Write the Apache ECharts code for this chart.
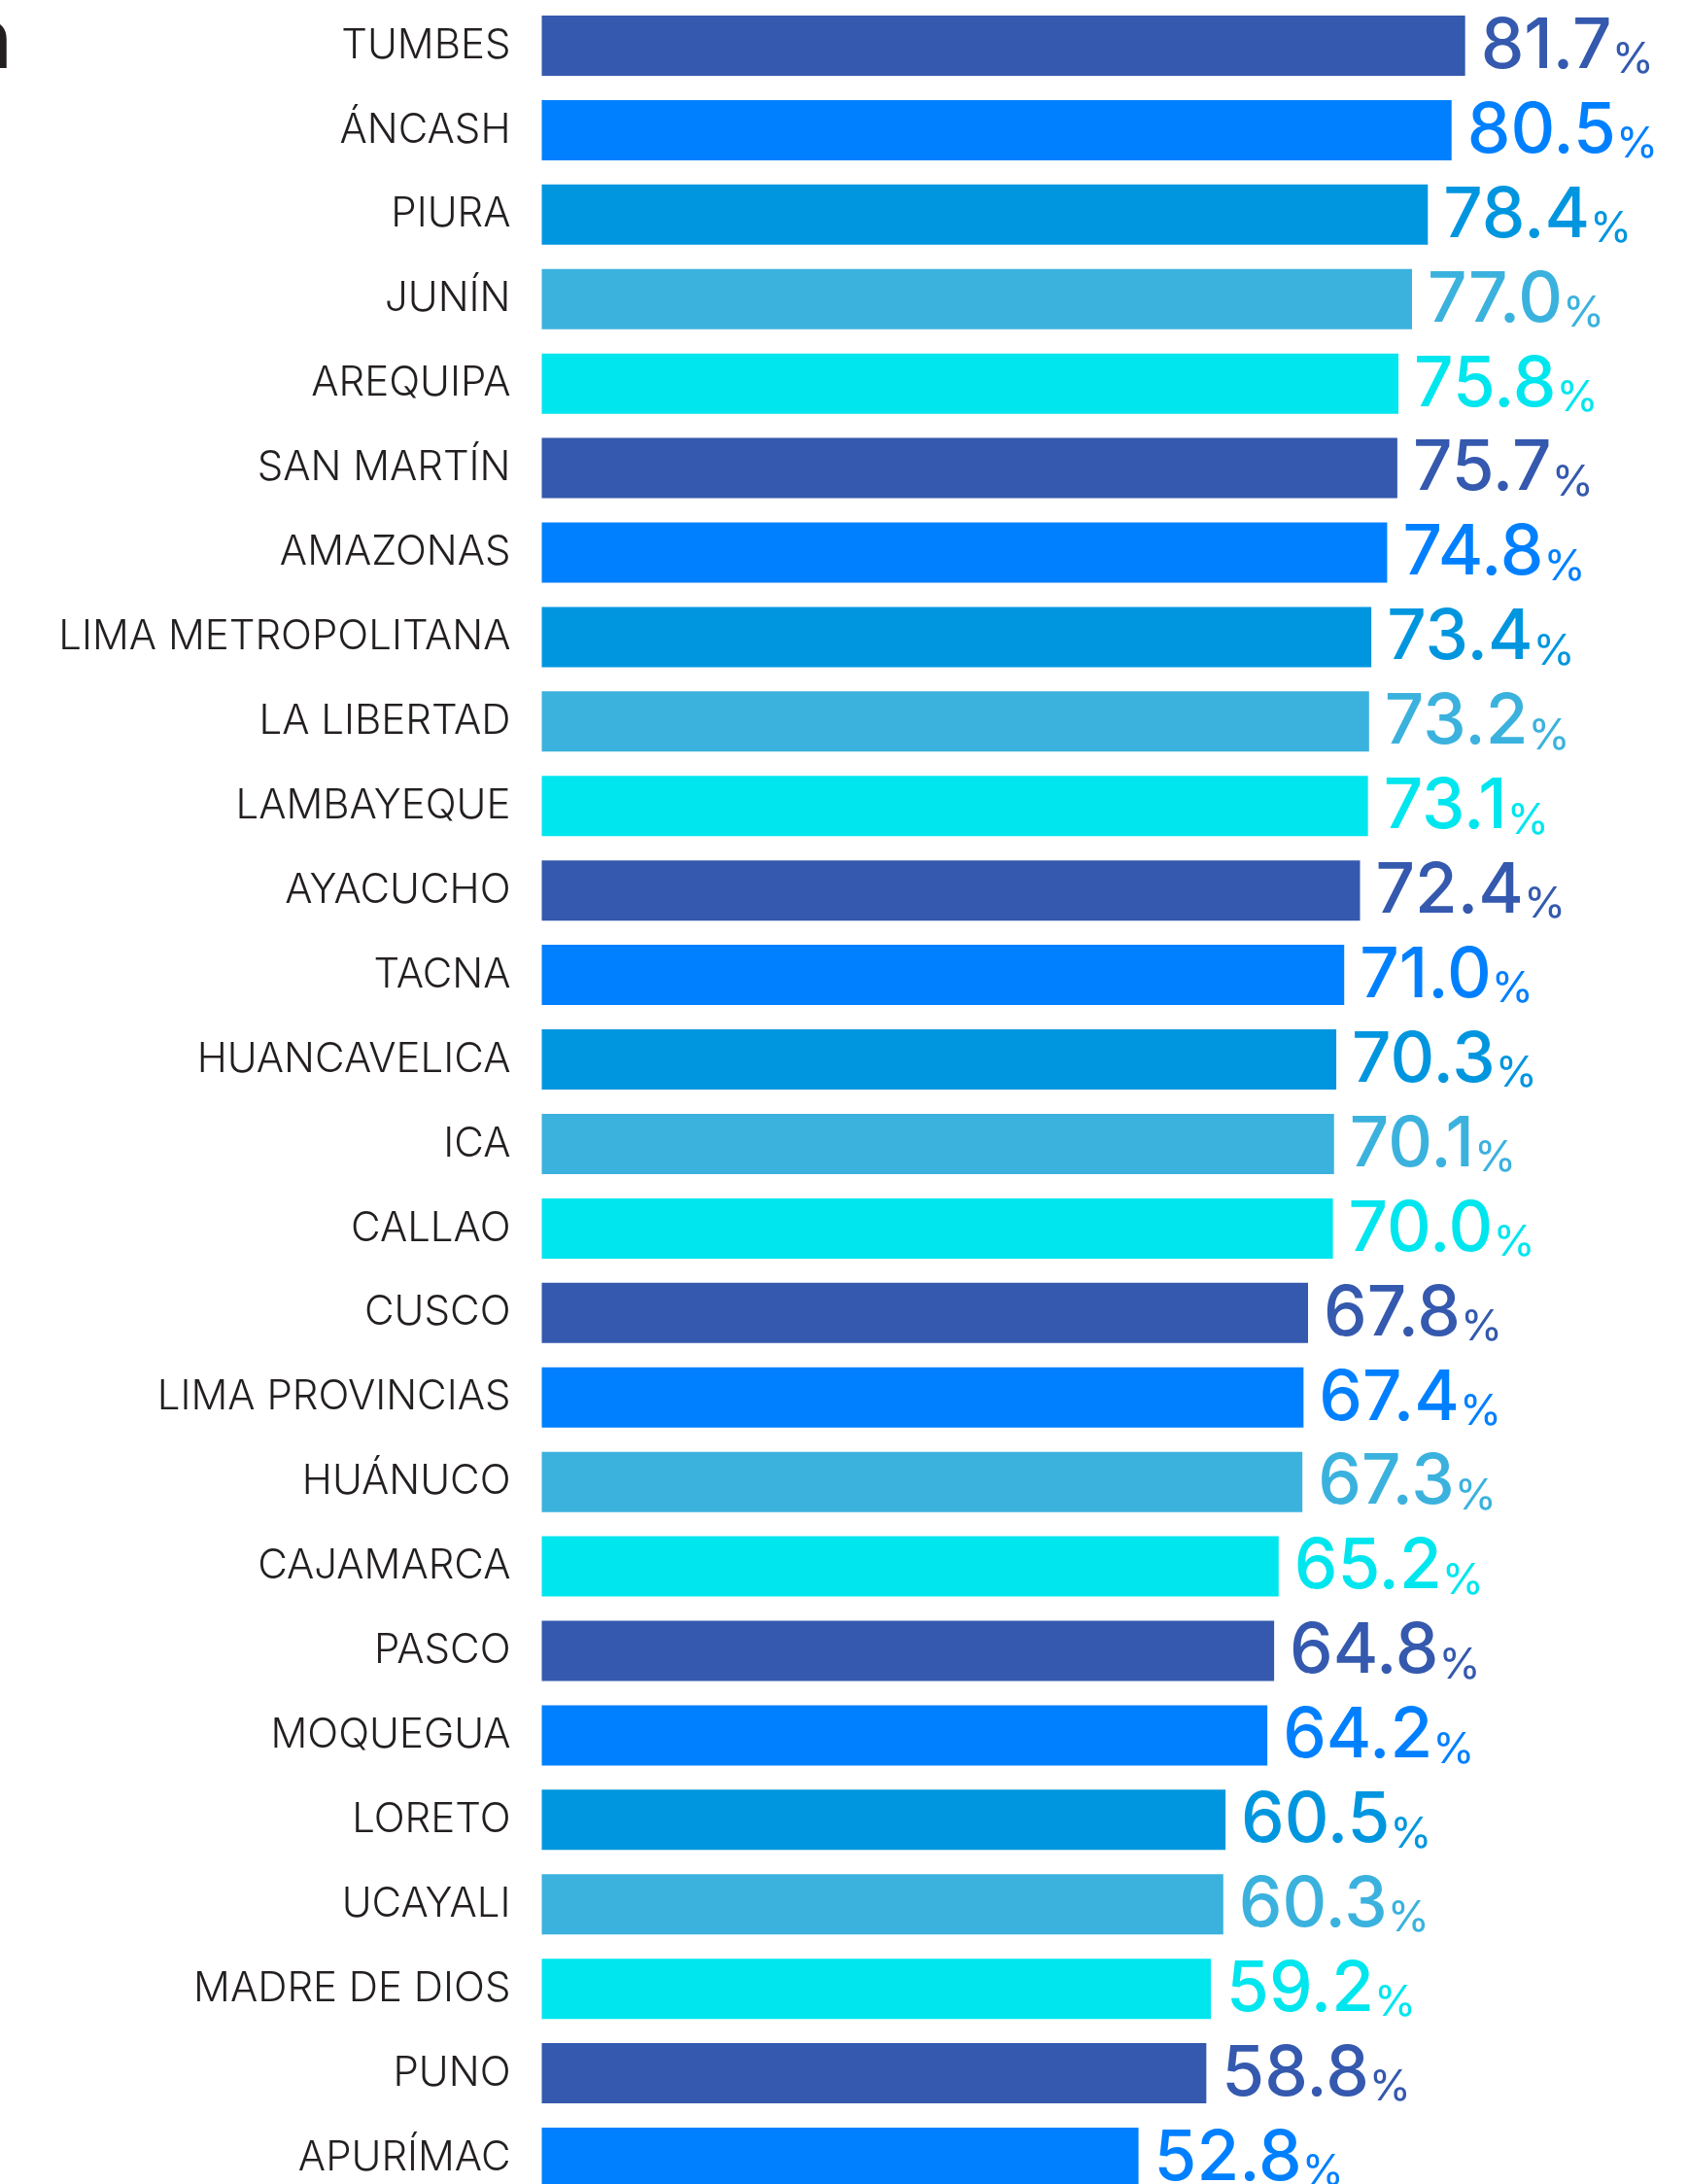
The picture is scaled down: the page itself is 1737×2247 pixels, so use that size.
<!DOCTYPE html>
<html>
<head>
<meta charset="utf-8">
<script src="https://cdn.jsdelivr.net/npm/echarts@6/dist/echarts.min.js"></script>
<style>
html,body{margin:0;padding:0;background:#fff;}
#c{width:1737px;height:2247px;}
</style>
</head>
<body>
<div id="c"></div>
<script>
var categories = ["TUMBES","ÁNCASH","PIURA","JUNÍN","AREQUIPA","SAN MARTÍN","AMAZONAS","LIMA METROPOLITANA","LA LIBERTAD","LAMBAYEQUE","AYACUCHO","TACNA","HUANCAVELICA","ICA","CALLAO","CUSCO","LIMA PROVINCIAS","HUÁNUCO","CAJAMARCA","PASCO","MOQUEGUA","LORETO","UCAYALI","MADRE DE DIOS","PUNO","APURÍMAC"];
var values = [81.7,80.5,78.4,77.0,75.8,75.7,74.8,73.4,73.2,73.1,72.4,71.0,70.3,70.1,70.0,67.8,67.4,67.3,65.2,64.8,64.2,60.5,60.3,59.2,58.8,52.8];
var barColors = ["#3459AE","#0080FF","#0096DF","#3BB2DE","#00E6EE","#3459AE","#0080FF","#0096DF","#3BB2DE","#00E6EE","#3459AE","#0080FF","#0096DF","#3BB2DE","#00E6EE","#3459AE","#0080FF","#3BB2DE","#00E6EE","#3459AE","#0080FF","#0096DF","#3BB2DE","#00E6EE","#3459AE","#0080FF"];

var chart = echarts.init(document.getElementById('c'));
var data = values.map(function(v,i){
  return {
    value: v,
    itemStyle: {color: barColors[i]},
    label: {
      rich: {
        v: {fontSize: 71, fontFamily: 'Inter', fontWeight: 500, color: barColors[i], verticalAlign:'bottom', lineHeight: 74},
        p: {fontSize: 44, fontFamily: 'Inter', fontWeight: 400, color: barColors[i], verticalAlign:'bottom', lineHeight: 74}
      }
    }
  };
});
chart.setOption({
  animation: false,
  backgroundColor: '#ffffff',
  graphic: [{
    type: 'text', x: 12, y: 40,
    style: {text: 'n', fontSize: 92, fontFamily: 'Lato', fontWeight: 'bold', fill: '#231F20', textAlign: 'right', textVerticalAlign: 'middle'}
  }],
  grid: {left: 557.5, top: 47, width: 1163, height: 2173, containLabel: false},
  xAxis: {type: 'value', min: 0, max: 100, show: false},
  yAxis: {
    type: 'category', data: categories, inverse: true, boundaryGap: false,
    axisLine: {show: false}, axisTick: {show: false}, splitLine: {show: false},
    axisLabel: {fontSize: 42, fontFamily: 'Inter', fontWeight: 300, color: '#231F20', margin: 32}
  },
  series: [{
    type: 'bar', data: data, barWidth: 62,
    label: {
      show: true, position: 'right', distance: 16,
      formatter: function(p){ return '{v|' + p.value.toFixed(1) + '}{p|%}'; }
    }
  }]
});
</script>
</body>
</html>
